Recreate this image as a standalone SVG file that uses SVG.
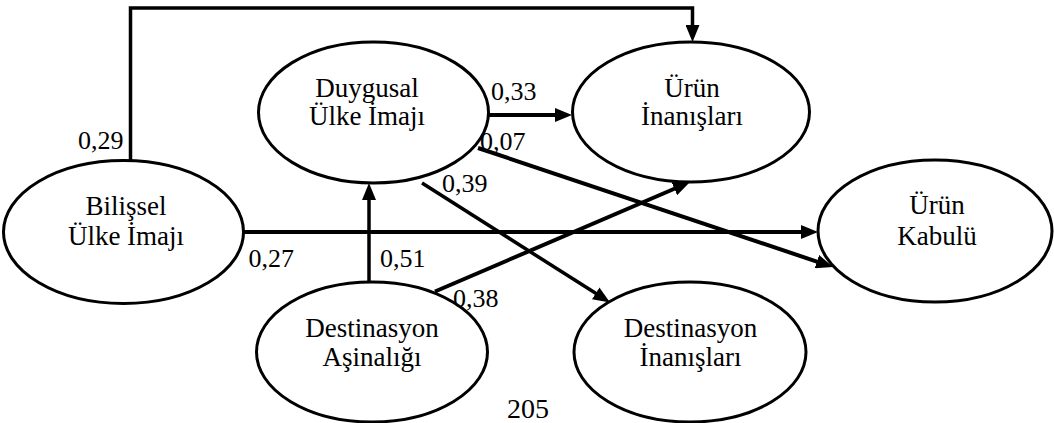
<svg xmlns="http://www.w3.org/2000/svg" width="1054" height="423" viewBox="0 0 1054 423">
  <style>
    .node ellipse { fill: #ffffff; stroke: #000000; stroke-width: 3; }
    .node text { text-anchor: middle; font-size: 27px; }
    .edge { fill: none; stroke: #000000; stroke-width: 4; marker-end: url(#head); }
    .thin { stroke-width: 3.5; }
  </style>
  <defs>
    <marker id="head" markerUnits="userSpaceOnUse" markerWidth="17" markerHeight="14" refX="7" refY="7" orient="auto">
      <path d="M0,0 L17,7 L0,14 Z" fill="#000000"/>
    </marker>
  </defs>
  <rect width="1054" height="423" fill="#ffffff"/>

  <!-- paths between constructs -->
  <g id="connectors">
    <path class="edge thin" d="M130.5,161 V8 H692.5 V32"/>
    <path class="edge" d="M489,115 H562"/>
    <path class="edge" d="M478,148 L823.5,263.8"/>
    <path class="edge thin" d="M422,183 L601.6,297.1"/>
    <path class="edge" d="M243,232 H808"/>
    <path class="edge thin" d="M369,282 V193"/>
    <path class="edge" d="M435,291.5 L680.8,186"/>
  </g>

  <g font-family="'Liberation Serif', 'Times New Roman', 'DejaVu Serif', serif" font-size="26" fill="#000000">
    <g id="bilissel" class="node">
      <ellipse cx="123.5" cy="232" rx="120" ry="71.5"/>
      <text x="126" y="215">Bilişsel</text>
      <text x="126" y="245">Ülke İmajı</text>
    </g>
    <g id="duygusal" class="node">
      <ellipse cx="373.5" cy="112.5" rx="115" ry="70.5"/>
      <text x="367" y="97">Duygusal</text>
      <text x="367" y="125">Ülke İmajı</text>
    </g>
    <g id="urun-inanislari" class="node">
      <ellipse cx="691" cy="112" rx="118.5" ry="70"/>
      <text x="692" y="97">Ürün</text>
      <text x="692" y="125">İnanışları</text>
    </g>
    <g id="urun-kabulu" class="node">
      <ellipse cx="935" cy="231" rx="117" ry="71"/>
      <text x="937" y="214">Ürün</text>
      <text x="937" y="245">Kabulü</text>
    </g>
    <g id="destinasyon-asinaligi" class="node">
      <ellipse cx="372" cy="352" rx="115.5" ry="70"/>
      <text x="372" y="337">Destinasyon</text>
      <text x="372" y="366">Aşinalığı</text>
    </g>
    <g id="destinasyon-inanislari" class="node">
      <ellipse cx="690" cy="352" rx="116" ry="70"/>
      <text x="690.5" y="337">Destinasyon</text>
      <text x="690.5" y="366">İnanışları</text>
    </g>

    <!-- path coefficients -->
    <g id="labels">
      <text x="78" y="149">0,29</text>
      <text x="491" y="100">0,33</text>
      <text x="480" y="150">0,07</text>
      <text x="442" y="192">0,39</text>
      <text x="248.5" y="267">0,27</text>
      <text x="380" y="267">0,51</text>
      <text x="453" y="307">0,38</text>
    </g>

    <text x="507" y="418" font-size="28">205</text>
  </g>
</svg>
